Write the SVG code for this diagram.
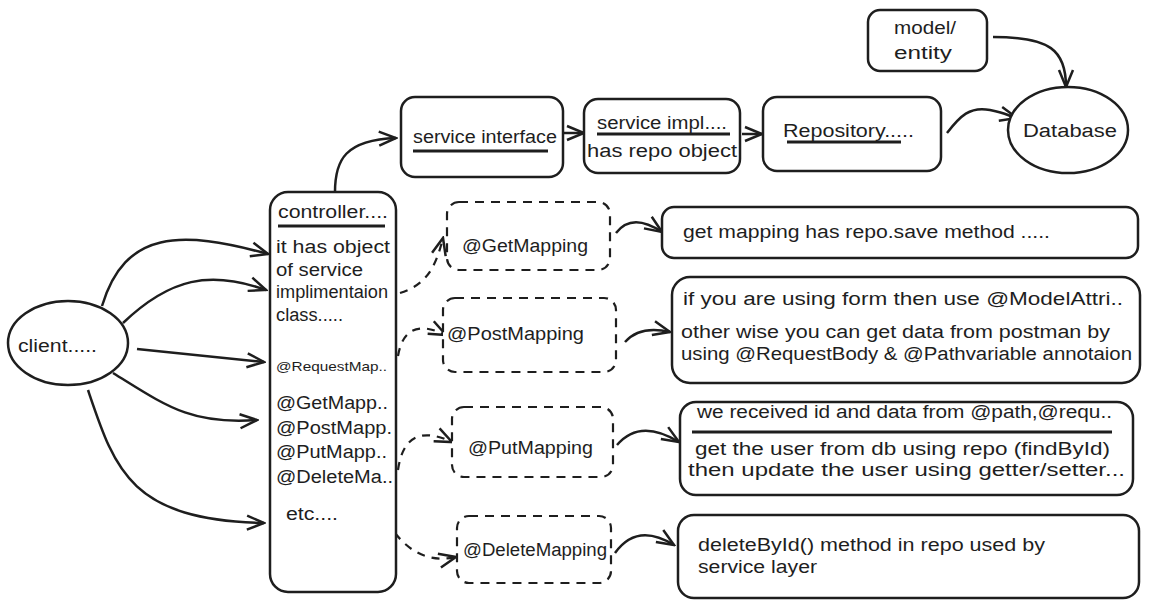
<svg xmlns="http://www.w3.org/2000/svg" width="1151" height="608" viewBox="0 0 1151 608">
<style>
.box{fill:#fff;stroke:#1e1e1e;stroke-width:2.5}
.dash{fill:#fff;stroke:#1e1e1e;stroke-width:2.2;stroke-dasharray:9 7}
.t{font-family:"Liberation Sans",Arial,sans-serif;font-size:18px;fill:#1e1e1e}
.s{font-size:13px}
.u{stroke:#1e1e1e;stroke-width:3;fill:none}
.c{fill:none;stroke:#1e1e1e;stroke-width:2.5;marker-end:url(#ah)}
.cd{fill:none;stroke:#1e1e1e;stroke-width:2.2;stroke-dasharray:8 7;marker-end:url(#ah)}
</style>
<defs>
<marker id="ah" markerUnits="userSpaceOnUse" markerWidth="20" markerHeight="18" refX="18" refY="9" orient="auto">
<path d="M1,2 L18,9 L1,16" fill="none" stroke="#1e1e1e" stroke-width="2.5" stroke-dasharray="none"/>
</marker>
</defs>
<rect width="1151" height="608" fill="#fff"/>
<g id="connectors">
<path class="c" d="M335,192 C335,160 345,140 396,138"/>
<path class="c" d="M564,133 L584,133"/>
<path class="c" d="M742,134 L762,134"/>
<path class="c" d="M947,133 C960,116 970,106 990,110 S1005,115 1017,118"/>
<path class="c" d="M993,37 C1050,37 1066,50 1066,87"/>
<path class="c" d="M102,306 C125,230 180,230 268,254"/>
<path class="c" d="M123,323 C170,278 210,270 266,290"/>
<path class="c" d="M137,349 L264,362"/>
<path class="c" d="M113,373 C165,405 190,425 257,420"/>
<path class="c" d="M88,390 C115,470 130,520 264,523"/>
<path class="cd" d="M400,293 C425,285 435,270 443,238"/>
<path class="cd" d="M398,356 Q405,315 446,335"/>
<path class="cd" d="M398,470 Q405,420 452,442"/>
<path class="cd" d="M395,533 Q420,565 456,557"/>
<path class="c" d="M616,233 Q632,212 662,232"/>
<path class="c" d="M625,342 Q640,325 670,332"/>
<path class="c" d="M617,445 Q640,418 679,442"/>
<path class="c" d="M615,553 Q637,522 674,545"/>
</g>
<g id="service-interface">
<rect class="box" x="401" y="97" width="162" height="80" rx="14"/>
<text class="t" x="413" y="143" textLength="144" lengthAdjust="spacingAndGlyphs">service interface</text>
<line class="u" x1="413" y1="151" x2="548" y2="151"/>
</g>
<g id="service-impl">
<rect class="box" x="584" y="99" width="156" height="74" rx="14"/>
<text class="t" x="597" y="129" textLength="130" lengthAdjust="spacingAndGlyphs">service impl....</text>
<line class="u" x1="597" y1="134" x2="730" y2="134"/>
<text class="t" x="587" y="157" textLength="150" lengthAdjust="spacingAndGlyphs">has repo object</text>
</g>
<g id="repository">
<rect class="box" x="763" y="97" width="178" height="74" rx="14"/>
<text class="t" x="783" y="137" textLength="131" lengthAdjust="spacingAndGlyphs">Repository.....</text>
<line class="u" x1="787" y1="142" x2="901" y2="142"/>
</g>
<g id="model-entity">
<rect class="box" x="868" y="10" width="119" height="61" rx="12"/>
<text class="t" x="894" y="34" textLength="62" lengthAdjust="spacingAndGlyphs">model/</text>
<text class="t" x="894" y="59" textLength="58" lengthAdjust="spacingAndGlyphs">entity</text>
</g>
<g id="database">
<ellipse class="box" cx="1068" cy="130" rx="60" ry="43"/>
<text class="t" x="1023" y="137" textLength="94" lengthAdjust="spacingAndGlyphs">Database</text>
</g>
<g id="client">
<ellipse class="box" cx="68" cy="343" rx="60" ry="42"/>
<text class="t" x="18" y="352" textLength="79" lengthAdjust="spacingAndGlyphs">client.....</text>
</g>
<g id="controller">
<rect class="box" x="270" y="192" width="126" height="400" rx="18"/>
<text class="t" x="278" y="218" textLength="110" lengthAdjust="spacingAndGlyphs">controller....</text>
<line class="u" x1="278" y1="226" x2="385" y2="226"/>
<text class="t" x="276" y="253" textLength="114" lengthAdjust="spacingAndGlyphs">it has object</text>
<text class="t" x="276" y="276" textLength="87" lengthAdjust="spacingAndGlyphs">of service</text>
<text class="t" x="276" y="298" textLength="112" lengthAdjust="spacingAndGlyphs">implimentaion</text>
<text class="t" x="276" y="321" textLength="67" lengthAdjust="spacingAndGlyphs">class.....</text>
<text class="t s" x="276" y="371" textLength="111" lengthAdjust="spacingAndGlyphs">@RequestMap..</text>
<text class="t" x="276" y="409" textLength="112" lengthAdjust="spacingAndGlyphs">@GetMapp..</text>
<text class="t" x="276" y="434" textLength="116" lengthAdjust="spacingAndGlyphs">@PostMapp.</text>
<text class="t" x="276" y="458" textLength="111" lengthAdjust="spacingAndGlyphs">@PutMapp..</text>
<text class="t" x="276" y="483" textLength="117" lengthAdjust="spacingAndGlyphs">@DeleteMa..</text>
<text class="t" x="286" y="520" textLength="52" lengthAdjust="spacingAndGlyphs">etc....</text>
</g>
<g id="get-mapping">
<rect class="dash" x="447" y="202" width="163" height="68" rx="12"/>
<text class="t" x="462" y="252" textLength="126" lengthAdjust="spacingAndGlyphs">@GetMapping</text>
</g>
<g id="post-mapping">
<rect class="dash" x="443" y="298" width="173" height="74" rx="12"/>
<text class="t" x="447" y="340" textLength="137" lengthAdjust="spacingAndGlyphs">@PostMapping</text>
</g>
<g id="put-mapping">
<rect class="dash" x="452" y="407" width="161" height="70" rx="12"/>
<text class="t" x="468" y="454" textLength="125" lengthAdjust="spacingAndGlyphs">@PutMapping</text>
</g>
<g id="delete-mapping">
<rect class="dash" x="457" y="516" width="154" height="67" rx="12"/>
<text class="t" x="463" y="556" textLength="144" lengthAdjust="spacingAndGlyphs">@DeleteMapping</text>
</g>
<g id="get-note">
<rect class="box" x="662" y="207" width="476" height="51" rx="12"/>
<text class="t" x="683" y="238" textLength="367" lengthAdjust="spacingAndGlyphs">get mapping has repo.save method .....</text>
</g>
<g id="post-note">
<rect class="box" x="672" y="277" width="468" height="106" rx="18"/>
<text class="t" x="683" y="305" textLength="440" lengthAdjust="spacingAndGlyphs">if you are using form then use @ModelAttri..</text>
<text class="t" x="681" y="338" textLength="429" lengthAdjust="spacingAndGlyphs">other wise you can get data from postman by</text>
<text class="t" x="681" y="360" textLength="451" lengthAdjust="spacingAndGlyphs">using @RequestBody &amp; @Pathvariable annotaion</text>
</g>
<g id="put-note">
<rect class="box" x="680" y="402" width="453" height="93" rx="16"/>
<text class="t" x="697" y="418" textLength="415" lengthAdjust="spacingAndGlyphs">we received id and data from @path,@requ..</text>
<line class="u" x1="692" y1="432" x2="1112" y2="432"/>
<text class="t" x="695" y="455" textLength="415" lengthAdjust="spacingAndGlyphs">get the user from db using repo (findById)</text>
<text class="t" x="688" y="476" textLength="437" lengthAdjust="spacingAndGlyphs">then update the user using getter/setter...</text>
</g>
<g id="delete-note">
<rect class="box" x="678" y="515" width="461" height="83" rx="16"/>
<text class="t" x="698" y="551" textLength="347" lengthAdjust="spacingAndGlyphs">deleteById() method in repo used by</text>
<text class="t" x="698" y="573" textLength="119" lengthAdjust="spacingAndGlyphs">service layer</text>
</g>
</svg>
